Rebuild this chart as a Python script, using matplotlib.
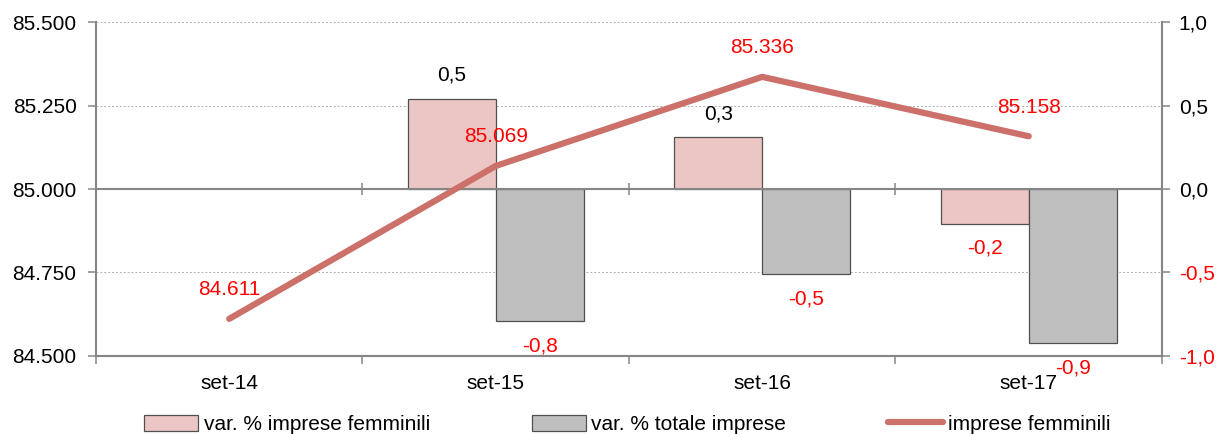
import numpy as np
import matplotlib
matplotlib.use("Agg")
from matplotlib import pyplot as plt
from matplotlib.patches import Patch
from matplotlib.lines import Line2D

plt.rcParams['font.family'] = ['Liberation Sans', 'DejaVu Sans']

# data
periodi = ["set-14", "set-15", "set-16", "set-17"]
var_femminili = [np.nan, 0.54, 0.31, -0.21]
var_totale = [np.nan, -0.79, -0.51, -0.92]
imprese_femminili = [84611, 85069, 85336, 85158]

pink = "#EBC6C4"
grey_bar = "#BFBFBF"
line_col = "#CC706A"
axis_grey = "#868686"
red = "#FF0000"
fs = 15

fig = plt.figure(figsize=(12.18, 4.34), dpi=100)
ax = fig.add_axes([0.0788, 0.180, 0.8752, 0.769])
ax2 = ax.twinx()

x = np.arange(len(periodi))
w = 0.33

# bars on the right axis
ax2.bar(x - w / 2, var_femminili, w, color=pink, edgecolor="#505050", linewidth=0.9, zorder=3)
ax2.bar(x + w / 2, var_totale, w, color=grey_bar, edgecolor="#505050", linewidth=0.9, zorder=3)
ax2.set_ylim(-1.0, 1.0)
ax2.set_yticks([1.0, 0.5, 0.0, -0.5, -1.0])
ax2.set_yticklabels([f"{v:.1f}".replace('.', ',') for v in [1.0, 0.5, 0.0, -0.5, -1.0]], fontsize=fs)
for t, v in zip(ax2.get_yticklabels(), [1.0, 0.5, 0.0, -0.5, -1.0]):
    if v < 0:
        t.set_color(red)
ax2.set_axisbelow(True)
ax2.grid(axis='y', color="#B0B0B0", linestyle=(0, (2, 2)), linewidth=0.7)
ax2.tick_params(axis='y', direction='out', length=6, width=1.1, color=axis_grey, pad=6)

# zero line with category separators
ax2.axhline(0, color=axis_grey, linewidth=1.5, zorder=4)
ax2.plot([0.5, 1.5, 2.5], [0, 0, 0], linestyle='none', marker='|', markersize=9,
         markeredgewidth=1.1, color=axis_grey, zorder=4)

for xi, v in zip(x, var_femminili):
    if np.isnan(v):
        continue
    off = 17 if v > 0 else -17
    ax2.annotate(f"{v:.1f}".replace('.', ','), (xi - w / 2, v), xytext=(0, off),
                 textcoords='offset points', ha='center', va='center', fontsize=fs,
                 color='black' if v > 0 else red, zorder=6)
for xi, v in zip(x, var_totale):
    if np.isnan(v):
        continue
    off = 17 if v > 0 else -18
    ax2.annotate(f"{v:.1f}".replace('.', ','), (xi + w / 2, v), xytext=(0, off),
                 textcoords='offset points', ha='center', va='center', fontsize=fs,
                 color='black' if v > 0 else red, zorder=6)

# line on the left axis, drawn above the bars
ax.set_zorder(ax2.get_zorder() + 1)
ax.patch.set_visible(False)
ax.plot(x, imprese_femminili, color=line_col, linewidth=4.5, solid_capstyle='round', zorder=5)
for xi, v in zip(x, imprese_femminili):
    ax.annotate(f"{v:,}".replace(',', '.'), (xi, v), xytext=(0, 21), textcoords='offset points',
                ha='center', va='center', fontsize=fs, color=red)

ax.set_ylim(84500, 85500)
ax.set_yticks([84500, 84750, 85000, 85250, 85500])
ax.set_yticklabels([f"{v:,}".replace(',', '.') for v in [84500, 84750, 85000, 85250, 85500]], fontsize=fs)
ax.tick_params(axis='y', direction='out', length=6, width=1.1, color=axis_grey, pad=8)

ax.set_xlim(-0.5, 3.5)
ax.set_xticks(x)
ax.set_xticklabels(periodi, fontsize=fs)
ax.set_xticks([-0.5, 0.5, 1.5, 2.5, 3.5], minor=True)
ax.tick_params(axis='x', which='major', length=0, pad=13)
ax.tick_params(axis='x', which='minor', direction='out', length=6, width=1.1, color=axis_grey)

for a in (ax, ax2):
    a.spines['top'].set_visible(False)
    for s in ('left', 'right', 'bottom'):
        a.spines[s].set_color(axis_grey)
        a.spines[s].set_linewidth(1.5)
ax.spines['right'].set_visible(False)
ax2.spines['left'].set_visible(False)

handles = [Patch(facecolor=pink, edgecolor="#505050", linewidth=0.9),
           Patch(facecolor=grey_bar, edgecolor="#505050", linewidth=0.9),
           Line2D([], [], color=line_col, linewidth=4.5, solid_capstyle='round')]
labels = ["var. % imprese femminili", "var. % totale imprese", "imprese femminili"]
fig.legend(handles, labels, loc='center', bbox_to_anchor=(0.515, 0.022), ncol=3, frameon=False,
           fontsize=fs, handlelength=2.6, handleheight=0.8, handletextpad=0.25, columnspacing=4.9)

fig.savefig("out.png", dpi=100)
